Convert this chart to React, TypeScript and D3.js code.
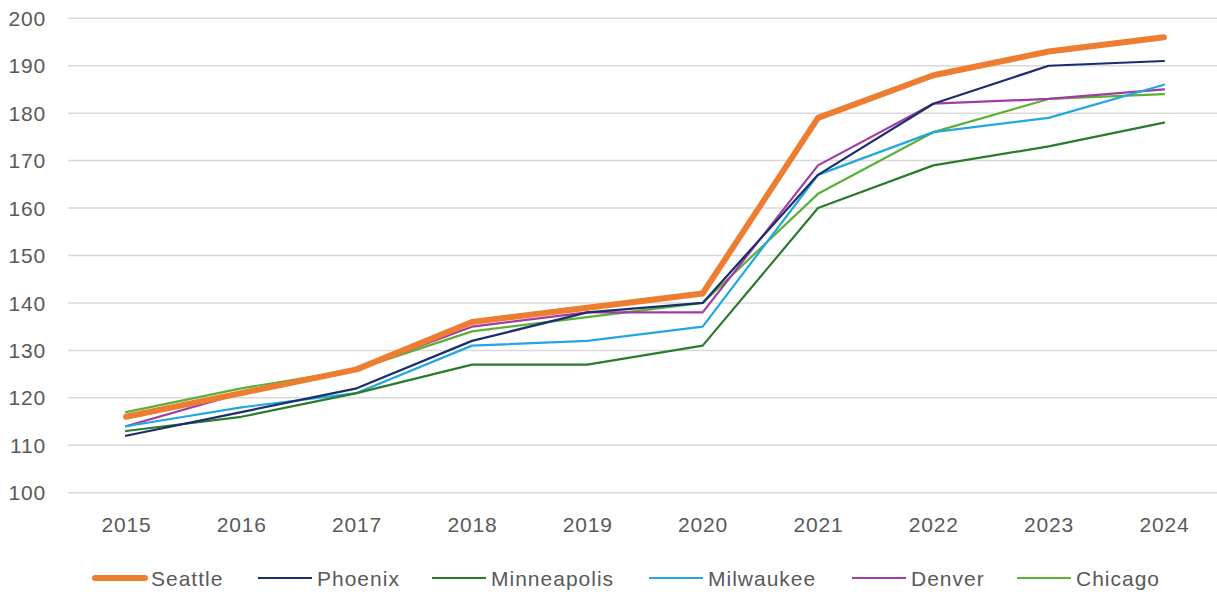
import React from "react";
import * as d3 from "d3";

const years = ["2015", "2016", "2017", "2018", "2019", "2020", "2021", "2022", "2023", "2024"];
const yTicks = [100, 110, 120, 130, 140, 150, 160, 170, 180, 190, 200];

const seattle = [116, 121, 126, 136, 139, 142, 179, 188, 193, 196];
const phoenix = [112, 117, 122, 132, 138, 140, 167, 182, 190, 191];
const minneapolis = [113, 116, 121, 127, 127, 131, 160, 169, 173, 178];
const milwaukee = [114, 118, 121, 131, 132, 135, 167, 176, 179, 186];
const denver = [114, 121, 126, 135, 138, 138, 169, 182, 183, 185];
const chicago = [117, 122, 126, 134, 137, 140, 163, 176, 183, 184];

const seriesNames = ["Seattle", "Phoenix", "Minneapolis", "Milwaukee", "Denver", "Chicago"];
const seriesValues = [seattle, phoenix, minneapolis, milwaukee, denver, chicago];
const seriesColors = ["#ED7D31", "#1B2E6B", "#2A7B2E", "#22A7E0", "#A23BA6", "#5CB035"];
const seriesWidths = [6, 2.2, 2.2, 2.2, 2.2, 2.2];

const W = 1217;
const H = 592;

export default function App() {
  const x = d3.scalePoint<string>().domain(years).range([126, 1164]);
  const y = d3.scaleLinear().domain([100, 200]).range([492.7, 18.3]);
  const line = d3
    .line<number>()
    .x((_, i) => x(years[i]) as number)
    .y((d) => y(d));

  const legendX = [92, 258, 432, 649, 852, 1017];
  const font = "'Liberation Sans', Arial, sans-serif";
  const drawOrder = [5, 4, 3, 2, 1, 0];

  return (
    <svg width={W} height={H} style={{ position: "absolute", left: 0, top: 0, background: "#fff" }}>
      {yTicks.map((t) => (
        <g key={t}>
          <line x1={68} x2={1217} y1={y(t)} y2={y(t)} stroke="#D9D9D9" strokeWidth={1.5} />
          <text x={46} y={y(t)} dy="0.36em" textAnchor="end" fontSize={21} letterSpacing={0.8} fill="#595959" fontFamily={font}>
            {t}
          </text>
        </g>
      ))}
      {years.map((yr) => (
        <text key={yr} x={(x(yr) as number) + 0.4} y={524} dy="0.36em" textAnchor="middle" fontSize={21} letterSpacing={0.8} fill="#595959" fontFamily={font}>
          {yr}
        </text>
      ))}
      {drawOrder.map((i) => (
        <path
          key={seriesNames[i]}
          d={line(seriesValues[i]) || ""}
          fill="none"
          stroke={seriesColors[i]}
          strokeWidth={seriesWidths[i]}
          strokeLinejoin="round"
          strokeLinecap="round"
        />
      ))}
      {seriesNames.map((n, i) => (
        <g key={n}>
          <line
            x1={legendX[i] + (i === 0 ? 3 : 0)}
            x2={legendX[i] + (i === 0 ? 53 : 54)}
            y1={578}
            y2={578}
            stroke={seriesColors[i]}
            strokeWidth={seriesWidths[i]}
            strokeLinecap={i === 0 ? "round" : "butt"}
          />
          <text x={legendX[i] + 59} y={578} dy="0.36em" fontSize={21} letterSpacing={1} fill="#595959" fontFamily={font}>
            {n}
          </text>
        </g>
      ))}
    </svg>
  );
}
